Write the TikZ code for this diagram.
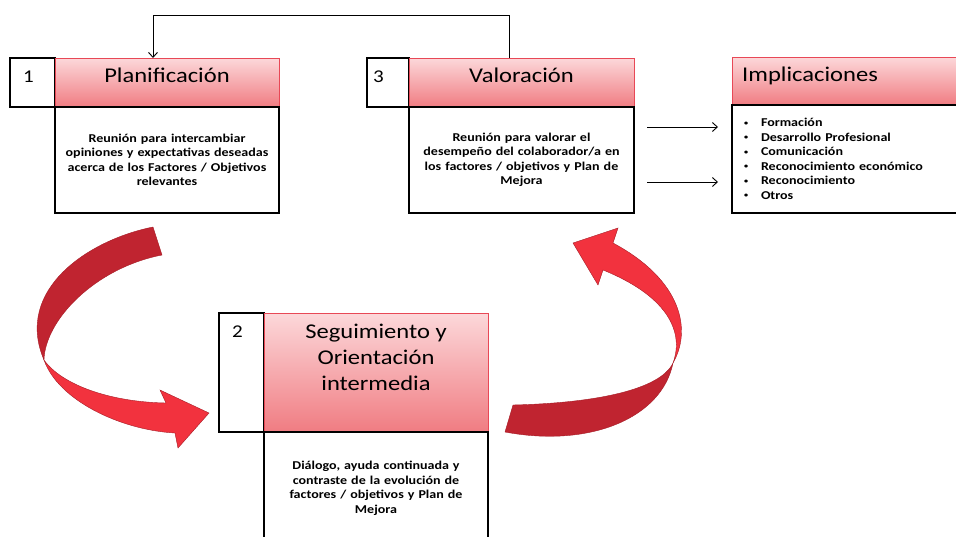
\documentclass[tikz,border=0pt]{standalone}
\usepackage{fontspec}
\setmainfont[FakeStretch=1.17]{Carlito}
\usetikzlibrary{positioning,arrows.meta}

\definecolor{headtop}{RGB}{252,216,218}
\definecolor{headbot}{RGB}{240,124,130}
\definecolor{headline}{RGB}{232,72,86}
\definecolor{ribdark}{RGB}{192,36,48}
\definecolor{ribbright}{RGB}{242,50,62}
\definecolor{ribedge}{RGB}{165,28,38}

\newcommand{\impitem}{\makebox[17pt][l]{\raisebox{1.6pt}{\fontsize{7}{7}\selectfont\textbullet}}}

\begin{document}
\begin{tikzpicture}[
    x=1pt, y=-1pt,
    numbox/.style={rectangle, draw=black, line width=1.6pt, fill=white, outer sep=0pt, anchor=north west},
    headbox/.style={rectangle, draw=headline, line width=0.8pt, top color=headtop, bottom color=headbot, outer sep=0pt, anchor=north west},
    bodybox/.style={rectangle, draw=black, line width=1.6pt, fill=white, outer sep=0pt, align=center, font=\fontsize{12}{14.5}\selectfont\bfseries},
    numtext/.style={anchor=north west, inner sep=0pt, font=\fontsize{18}{20}\selectfont},
    titletext/.style={anchor=north, inner sep=0pt, align=center, font=\fontsize{21}{26}\selectfont},
    ribbon/.style={draw=ribedge, line width=0.4pt},
    arrow/.style={-{Straight Barb[length=5pt,width=9pt]}, line width=0.9pt}
]
\clip (0,0) rectangle (956,536);

% Step 1
\node[numbox, minimum width=45pt, minimum height=49pt] (n1) at (10,58) {};
\node[headbox, minimum width=224pt, minimum height=49pt] (h1) at (n1.north east) {};
\node[bodybox, minimum width=224pt, minimum height=106pt, text width=214pt, below=0pt of h1] (b1)
    {Reunión para intercambiar\\opiniones y expectativas deseadas\\acerca de los Factores / Objetivos\\relevantes};
\node[numtext] (l1) at ([shift={(13,13)}]n1.north west) {1};
\node[titletext, below=10pt of h1.north] (t1) {Planificación};

% Step 3
\node[numbox, minimum width=42pt, minimum height=49pt] (n3) at (367,58) {};
\node[headbox, minimum width=225pt, minimum height=49pt] (h3) at (n3.north east) {};
\node[bodybox, minimum width=225pt, minimum height=106pt, text width=214pt, below=0pt of h3] (b3)
    {Reunión para valorar el\\desempeño del colaborador/a en\\los factores / objetivos y Plan de\\Mejora};
\node[numtext] (l3) at ([shift={(6,13)}]n3.north west) {3};
\node[titletext, below=10pt of h3.north] (t3) {Valoración};

% Implicaciones
\node[headbox, minimum width=240pt, minimum height=48pt] (h4) at (732,57) {};
\node[bodybox, minimum width=240pt, minimum height=108pt, text width=216pt, align=left, below=0pt of h4] (b4)
    {\impitem Formación\\
     \impitem Desarrollo Profesional\\
     \impitem Comunicación\\
     \impitem Reconocimiento económico\\
     \impitem Reconocimiento\\
     \impitem Otros};
\node[titletext, anchor=north west] (t4) at ([shift={(10,10)}]h4.north west) {Implicaciones};

% Step 2
\node[numbox, minimum width=45pt, minimum height=119pt] (n2) at (219,313) {};
\node[headbox, minimum width=224pt, minimum height=119pt] (h2) at (n2.north east) {};
\node[bodybox, minimum width=224pt, minimum height=113pt, text width=214pt, below=0pt of h2] (b2)
    {Diálogo, ayuda continuada y\\contraste de la evolución de\\factores / objetivos y Plan de\\Mejora};
\node[numtext] (l2) at ([shift={(13,13)}]n2.north west) {2};
\node[titletext, below=11pt of h2.north] (t2) {Seguimiento y\\Orientación\\intermedia};

% Connectors
\draw[arrow] ([xshift=-12.5pt]h3.north) -- ++(0,-43) -| ([xshift=-14pt]h1.north);
\draw[arrow, shorten <=13pt, shorten >=14pt] ([yshift=33pt]b3.east) -- ([yshift=33pt]b3.east -| b4.west);
\draw[arrow, shorten <=13pt, shorten >=14pt] ([yshift=-22pt]b3.east) -- ([yshift=-22pt]b3.east -| b4.west);

% Curved arrow 1 -> 2
\filldraw[ribbon, fill=ribdark] (153,227) .. controls (88,240) and (14,290) .. (44,360)
    .. controls (45,320) and (95,268) .. (162,255) -- cycle;
\filldraw[ribbon, fill=ribbright] (44,360) .. controls (62,385) and (110,402) .. (166,403)
    -- (160,390) -- (209,413) -- (178,448) -- (175,433)
    .. controls (120,430) and (58,400) .. (44,360) -- cycle;

% Curved arrow 2 -> 3
\filldraw[ribbon, fill=ribdark] (505,432) .. controls (590,448) and (662,418) .. (673,363)
    .. controls (660,390) and (595,403) .. (513,405) -- cycle;
\filldraw[ribbon, fill=ribbright] (673,363) .. controls (692,330) and (682,280) .. (613,243)
    -- (618,228) -- (573,243) -- (598,285) -- (603,270)
    .. controls (665,295) and (685,330) .. (673,363) -- cycle;

\end{tikzpicture}
\end{document}
